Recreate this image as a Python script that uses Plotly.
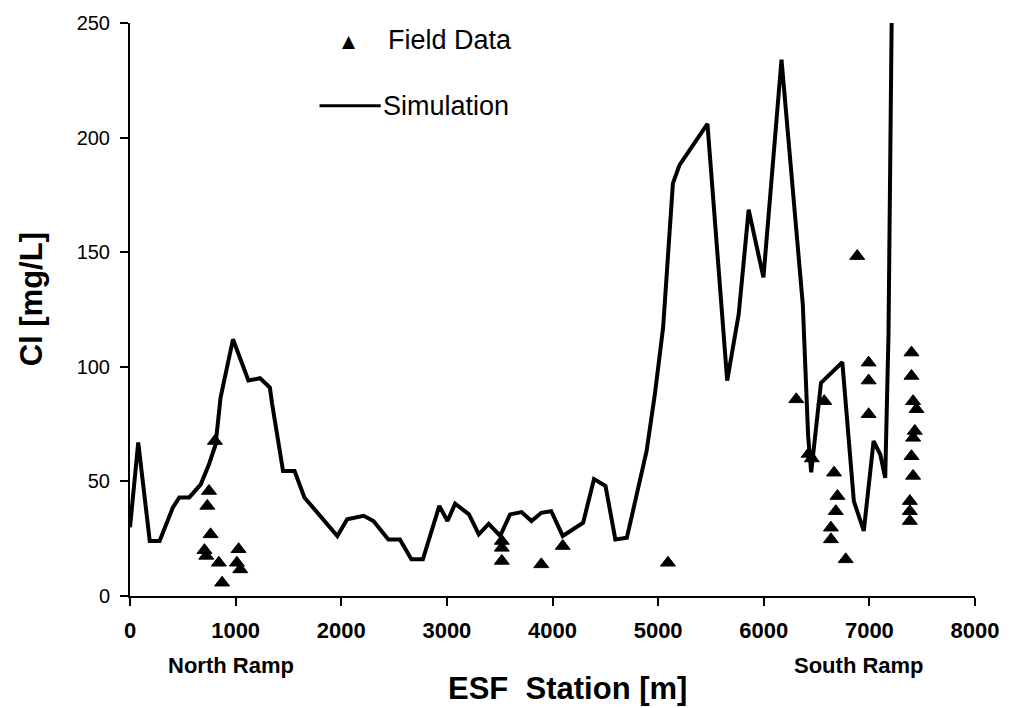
import plotly.graph_objects as go

# Simulated chloride profile along the ESF (station in m, Cl in mg/L)
sim_station = [0, 78, 187, 280, 405, 467, 561, 670, 748, 810, 857, 975, 1121, 1231,
               1324, 1345, 1449, 1558, 1651, 1776, 1963, 2056, 2212, 2305, 2446, 2555,
               2664, 2773, 2928, 3006, 3078, 3209, 3302, 3396, 3505, 3598, 3707, 3801,
               3894, 3988, 4097, 4290, 4393, 4502, 4595, 4704, 4798, 4891, 4969, 5047,
               5140, 5202, 5467, 5654, 5763, 5857, 5997, 6168, 6370, 6420, 6449, 6542,
               6744, 6853, 6947, 7040, 7103, 7150, 7181, 7212]
sim_cl = [30, 67, 24, 24, 38.5, 43, 43, 48.7, 57.5, 66, 86.5, 112, 94, 95,
          91, 84, 54.5, 54.5, 43, 36, 26.2, 33.5, 35, 32.7, 24.7, 24.7,
          16, 16, 39.3, 32.7, 40.3, 35.6, 26.9, 31.5, 26.2, 35.6, 36.6, 32.7,
          36.3, 37, 26.2, 32, 51, 48, 24.7, 25.4, 44.4, 63.3, 88, 117,
          180, 188, 206, 94, 123, 168.5, 139, 234, 127, 70, 54, 93,
          102, 41.4, 28.4, 67.6, 61.8, 51.6, 114, 256]

# Measured chloride in pore water samples
field_station = [804, 748, 732, 763, 705, 722, 841, 872, 1028, 1012, 1044,
                 3520, 3520, 3520, 3894, 4097, 5093, 6885,
                 6308, 6573, 6425, 6455, 6666, 6698, 6682, 6636, 6636, 6776,
                 6993, 6993, 6993,
                 7399, 7399, 7414, 7446, 7430, 7414, 7399, 7414, 7383, 7383, 7383]
field_cl = [67.6, 45.8, 39.3, 26.9, 20, 17.5, 14.5, 5.8, 20.4, 14.5, 11.6,
            24, 21, 15.3, 13.8, 21.8, 14.5, 148.3,
            85.8, 85, 62, 60, 53.8, 43.6, 37, 29.8, 24.7, 16,
            101.8, 94, 79.3,
            106.2, 96, 85, 81.5, 72, 69, 61, 52.4, 41.4, 37, 32.7]

x_ticks = [0, 1000, 2000, 3000, 4000, 5000, 6000, 7000, 8000]
y_ticks = [0, 50, 100, 150, 200, 250]

FONT = "Liberation Sans, Arial, sans-serif"

fig = go.Figure()
fig.add_trace(go.Scatter(
    x=sim_station, y=sim_cl, mode="lines", name="Simulation",
    line=dict(color="black", width=4), showlegend=False,
))
fig.add_trace(go.Scatter(
    x=field_station, y=field_cl, mode="markers", name="Field Data",
    marker=dict(symbol="triangle-up", size=13, color="black",
                line=dict(color="black", width=1)),
    showlegend=False,
))

W, H = 1011, 708
L, R, T, B = 130, 25, 21, 112
pw, ph = W - L - R, H - T - B


def px(xp):
    return (xp - L) / pw


def py(yp):
    return (H - B - yp) / ph


fig.update_layout(
    width=W, height=H,
    margin=dict(l=L, r=R, t=T, b=B),
    paper_bgcolor="white", plot_bgcolor="white",
    font=dict(family=FONT, color="black"),
    xaxis=dict(
        range=[0, 8000], tickvals=x_ticks, ticktext=[str(v) for v in x_ticks],
        showgrid=False, zeroline=False, showline=True, linecolor="black",
        linewidth=2, ticks="outside", ticklen=8, tickwidth=1.5, tickcolor="black",
        tickfont=dict(size=22, family=FONT, weight="bold"), ticklabelstandoff=6,
    ),
    yaxis=dict(
        range=[0, 250], tickvals=y_ticks, ticktext=[str(v) for v in y_ticks],
        showgrid=False, zeroline=False, showline=True, linecolor="black",
        linewidth=2, ticks="outside", ticklen=8, tickwidth=1.5, tickcolor="black",
        tickfont=dict(size=20, family=FONT), ticklabelstandoff=6,
    ),
)

annotations = [
    # axis titles
    dict(text="ESF\u00a0 Station [m]", x=px(573), y=py(689), xref="paper", yref="paper",
         showarrow=False, xanchor="center", yanchor="middle",
         font=dict(size=31, family=FONT, weight="bold")),
    dict(text="Cl [mg/L]", x=px(30), y=py(298), xref="paper", yref="paper",
         showarrow=False, xanchor="center", yanchor="middle", textangle=-90,
         font=dict(size=31, family=FONT, weight="bold")),
    # ramp labels
    dict(text="North Ramp", x=px(232), y=py(666), xref="paper", yref="paper",
         showarrow=False, xanchor="center", yanchor="middle",
         font=dict(size=22, family=FONT, weight="bold")),
    dict(text="South Ramp", x=px(868), y=py(666), xref="paper", yref="paper",
         showarrow=False, xanchor="center", yanchor="middle",
         font=dict(size=22, family=FONT, weight="bold")),
    # legend
    dict(text="\u25b2", x=px(352), y=py(39), xref="paper", yref="paper",
         showarrow=False, xanchor="center", yanchor="middle",
         font=dict(size=17, family="DejaVu Sans")),
    dict(text="Field Data", x=px(389), y=py(38), xref="paper", yref="paper",
         showarrow=False, xanchor="left", yanchor="middle",
         font=dict(size=27, family=FONT)),
    dict(text="Simulation", x=px(384), y=py(104), xref="paper", yref="paper",
         showarrow=False, xanchor="left", yanchor="middle",
         font=dict(size=27, family=FONT)),
]
fig.update_layout(annotations=annotations)

fig.add_shape(type="line", xref="paper", yref="paper",
              x0=px(322), x1=px(384), y0=py(104), y1=py(104),
              line=dict(color="black", width=3))

fig.write_html("out.html")
